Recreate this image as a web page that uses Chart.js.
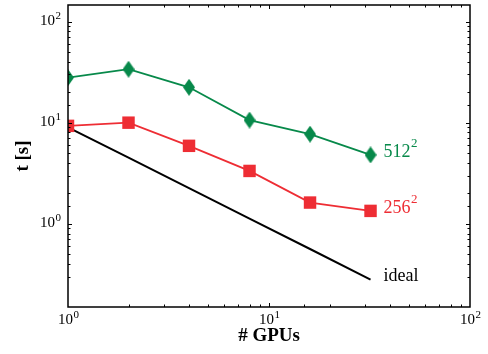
<!DOCTYPE html>
<html>
<head>
<meta charset="utf-8">
<script src="https://cdn.jsdelivr.net/npm/chart.js@4"></script>
<style>
  html, body { margin: 0; background: #fff; }
</style>
</head>
<body>
<canvas id="grafico" width="488" height="354"></canvas>
<script>
// dados (tempo em s vs numero de GPUs)
const gpus = [1, 2, 4, 8, 16, 32];
const t512 = [27.9, 33.8, 22.4, 10.6, 7.7, 4.8];
const t256 = [9.3, 10.0, 5.9, 3.33, 1.62, 1.34];
const tIdeal = [9.0, 4.5, 2.25, 1.125, 0.5625, 0.28];
const nomes = ['512', '256', 'ideal'];
const expoentes = ['2', '2', ''];

const verde = '#07894a';
const vermelho = '#ee2d34';
const serif = '"Liberation Serif", "Times New Roman", serif';

function ehPotencia(v) {
  const l = Math.log10(v);
  return Math.abs(l - Math.round(l)) < 1e-6;
}

// losango alongado (o rectRot do Chart.js e quadrado)
function losango(w, h, cor) {
  const c = document.createElement('canvas');
  c.width = w; c.height = h;
  const g = c.getContext('2d');
  g.fillStyle = cor;
  g.beginPath();
  g.moveTo(w / 2, 0); g.lineTo(w, h / 2); g.lineTo(w / 2, h); g.lineTo(0, h / 2);
  g.closePath();
  g.fill();
  return c;
}

// texto "10" com expoente
function potencia(ctx, v, x, y, alinh) {
  const e = String(Math.round(Math.log10(v)));
  ctx.font = '15px ' + serif;
  const wb = ctx.measureText('10').width;
  ctx.font = '11px ' + serif;
  const we = ctx.measureText(e).width;
  let x0 = x;
  if (alinh === 'right') x0 = x - wb - we - 0.5;
  if (alinh === 'center') x0 = x - (wb + we + 0.5) / 2;
  ctx.textAlign = 'left';
  ctx.textBaseline = 'alphabetic';
  ctx.font = '15px ' + serif;
  ctx.fillText('10', x0, y);
  ctx.font = '11px ' + serif;
  ctx.fillText(e, x0 + wb + 0.5, y - 6.5);
}

// ticks para dentro nos quatro lados, moldura, rotulos dos eixos e das series
const moldura = {
  id: 'moldura',
  afterDatasetsDraw(chart) {
    const { ctx, chartArea: a, scales: { x, y } } = chart;
    ctx.save();
    ctx.strokeStyle = '#000';
    ctx.lineWidth = 1;
    ctx.beginPath();
    x.ticks.forEach(t => {
      const px = Math.round(x.getPixelForValue(t.value)) + 0.5;
      if (px < a.left + 1 || px > a.right - 1) return;
      const len = ehPotencia(t.value) ? 4 : 2.5;
      ctx.moveTo(px, a.bottom); ctx.lineTo(px, a.bottom - len);
      ctx.moveTo(px, a.top); ctx.lineTo(px, a.top + len);
    });
    y.ticks.forEach(t => {
      const py = Math.round(y.getPixelForValue(t.value)) + 0.5;
      if (py < a.top + 1 || py > a.bottom - 1) return;
      const len = ehPotencia(t.value) ? 4 : 2.5;
      ctx.moveTo(a.left, py); ctx.lineTo(a.left + len, py);
      ctx.moveTo(a.right, py); ctx.lineTo(a.right - len, py);
    });
    ctx.stroke();
    ctx.lineWidth = 1.5;
    ctx.strokeRect(a.left, a.top, a.right - a.left, a.bottom - a.top);

    // rotulos das decadas
    ctx.fillStyle = '#000';
    x.ticks.filter(t => ehPotencia(t.value)).forEach(t => {
      potencia(ctx, t.value, x.getPixelForValue(t.value) + 0.5, a.bottom + 17, 'center');
    });
    y.ticks.filter(t => ehPotencia(t.value)).forEach(t => {
      potencia(ctx, t.value, a.left - 7, y.getPixelForValue(t.value) + 3.5, 'right');
    });

    // rotulos no fim de cada curva
    chart.data.datasets.forEach((ds, i) => {
      const n = ds.data.length - 1;
      const px = x.getPixelForValue(ds.data[n].x) + 13;
      const py = y.getPixelForValue(ds.data[n].y) - 3;
      ctx.fillStyle = ds.borderColor;
      ctx.textAlign = 'left';
      ctx.textBaseline = 'middle';
      ctx.font = '18px ' + serif;
      ctx.fillText(nomes[i], px, py);
      if (expoentes[i]) {
        const w = ctx.measureText(nomes[i]).width;
        ctx.font = '13px ' + serif;
        ctx.fillText(expoentes[i], px + w + 0.5, py - 8);
      }
    });
    ctx.restore();
  }
};

const ctx = document.getElementById('grafico').getContext('2d');
new Chart(ctx, {
  type: 'line',
  data: {
    datasets: [
      {
        data: t512.map((v, i) => ({ x: gpus[i], y: v })),
        borderColor: verde,
        backgroundColor: verde,
        borderWidth: 1.8,
        pointStyle: losango(12, 17, verde),
        pointRadius: 8
      },
      {
        data: t256.map((v, i) => ({ x: gpus[i], y: v })),
        borderColor: vermelho,
        backgroundColor: vermelho,
        borderWidth: 1.8,
        pointStyle: 'rect',
        pointRadius: 8.8,
        pointBorderWidth: 0
      },
      {
        data: tIdeal.map((v, i) => ({ x: gpus[i], y: v })),
        borderColor: '#000',
        borderWidth: 2,
        pointRadius: 0
      }
    ]
  },
  options: {
    responsive: false,
    devicePixelRatio: 1,
    animation: false,
    layout: { autoPadding: false, padding: { top: 5, right: 18, left: 0, bottom: 0 } },
    plugins: { legend: { display: false }, tooltip: { enabled: false } },
    scales: {
      x: {
        type: 'logarithmic',
        min: 1,
        max: 100,
        grid: { display: false },
        border: { display: false },
        ticks: { display: false, autoSkip: false },
        title: {
          display: true,
          text: '# GPUs',
          color: '#000',
          font: { family: serif, size: 19, weight: 'bold' },
          padding: { top: 0, bottom: 7 }
        },
        afterFit: s => { s.height = 47; s.paddingLeft = 0; s.paddingRight = 0; }
      },
      y: {
        type: 'logarithmic',
        min: 0.15,
        max: 146,
        grid: { display: false },
        border: { display: false },
        ticks: { display: false, autoSkip: false },
        title: {
          display: true,
          text: 't [s]',
          color: '#000',
          font: { family: serif, size: 19, weight: 'bold' },
          padding: { top: 12, bottom: 0 }
        },
        afterFit: s => { s.width = 68; s.paddingTop = 0; s.paddingBottom = 0; }
      }
    }
  },
  plugins: [moldura]
});
</script>
</body>
</html>
